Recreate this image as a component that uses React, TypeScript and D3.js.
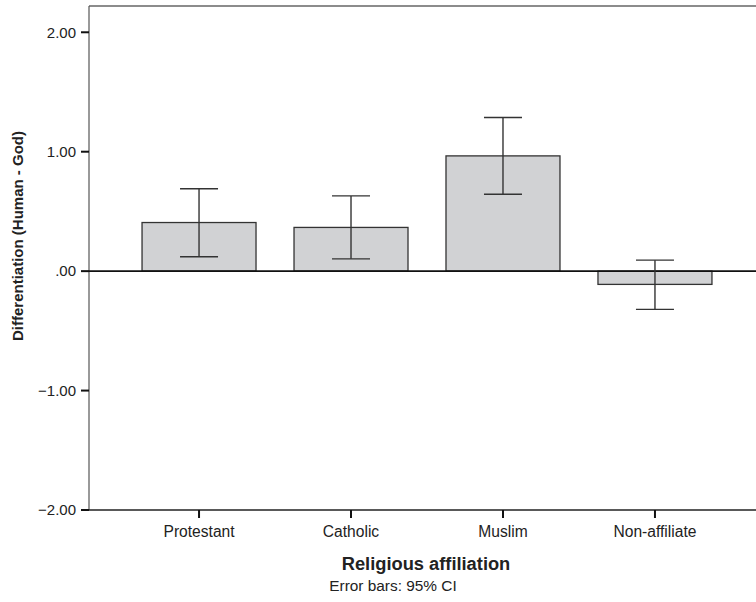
import React from "react";
import * as d3 from "d3";

const categories = ["Protestant", "Catholic", "Muslim", "Non-affiliate"];
const means = [0.407, 0.366, 0.965, -0.111];
const ciLow = [0.12, 0.103, 0.644, -0.32];
const ciHigh = [0.69, 0.63, 1.286, 0.092];
const yTicks = [2, 1, 0, -1, -2];
const yTickLabels = ["2.00", "1.00", ".00", "\u22121.00", "\u22122.00"];

const W = 756;
const H = 602;
const left = 89;
const top = 6;
const bottom = 510;

const font = "Liberation Sans, Arial, Helvetica, sans-serif";

export default function App() {
  const y = d3.scaleLinear().domain([-2, 2.22]).range([bottom, top]);
  const x = d3
    .scaleBand<string>()
    .domain(categories)
    .range([left, 765])
    .paddingInner(0.25)
    .paddingOuter(0.349);
  const bw = x.bandwidth();
  const cap = 19;

  return (
    <svg
      width={W}
      height={H}
      style={{ position: "absolute", left: 0, top: 0, background: "#fff", display: "block", overflow: "hidden" }}
      fontFamily={font}
    >
      {/* frame */}
      <line x1={left} x2={W} y1={top} y2={top} stroke="#666" strokeWidth={1.5} />
      <line x1={left} x2={left} y1={top} y2={bottom} stroke="#555" strokeWidth={1.2} />
      <line x1={left} x2={W} y1={bottom} y2={bottom} stroke="#222" strokeWidth={1.3} />

      {/* y ticks */}
      {yTicks.map((t, i) => (
        <g key={t}>
          <line x1={left - 8} x2={left} y1={y(t)} y2={y(t)} stroke="#111" strokeWidth={2} />
          <text
            x={left - 13}
            y={y(t)}
            dy="0.35em"
            textAnchor="end"
            fontSize={15}
            fill="#222"
          >
            {yTickLabels[i]}
          </text>
        </g>
      ))}

      {/* bars */}
      {categories.map((c, i) => {
        const y0 = y(0);
        const yv = y(means[i]);
        return (
          <rect
            key={c}
            x={x(c)}
            y={Math.min(y0, yv)}
            width={bw}
            height={Math.abs(yv - y0)}
            fill="#d1d2d4"
            stroke="#333"
            strokeWidth={1.3}
          />
        );
      })}

      {/* zero line */}
      <line x1={left} x2={W} y1={y(0)} y2={y(0)} stroke="#111" strokeWidth={1.8} />

      {/* error bars */}
      {categories.map((c, i) => {
        const cx = (x(c) as number) + bw / 2;
        return (
          <g key={c} stroke="#333" strokeWidth={1.4}>
            <line x1={cx} x2={cx} y1={y(ciLow[i])} y2={y(ciHigh[i])} />
            <line x1={cx - cap} x2={cx + cap} y1={y(ciHigh[i])} y2={y(ciHigh[i])} />
            <line x1={cx - cap} x2={cx + cap} y1={y(ciLow[i])} y2={y(ciLow[i])} />
          </g>
        );
      })}

      {/* x ticks */}
      {categories.map((c) => {
        const cx = (x(c) as number) + bw / 2;
        return (
          <g key={c}>
            <line x1={cx} x2={cx} y1={bottom} y2={bottom + 8} stroke="#111" strokeWidth={2} />
            <text x={cx} y={537} textAnchor="middle" fontSize={15.6} fill="#222">
              {c}
            </text>
          </g>
        );
      })}

      {/* titles */}
      <text
        x={426}
        y={570}
        textAnchor="middle"
        fontSize={18.3}
        fontWeight="bold"
        fill="#222"
      >
        Religious affiliation
      </text>
      <text x={393} y={591} textAnchor="middle" fontSize={15.4} fill="#222">
        Error bars: 95% CI
      </text>
      <text
        transform="translate(23,236) rotate(-90)"
        textAnchor="middle"
        fontSize={15}
        fontWeight="bold"
        fill="#222"
      >
        Differentiation (Human - God)
      </text>
    </svg>
  );
}
